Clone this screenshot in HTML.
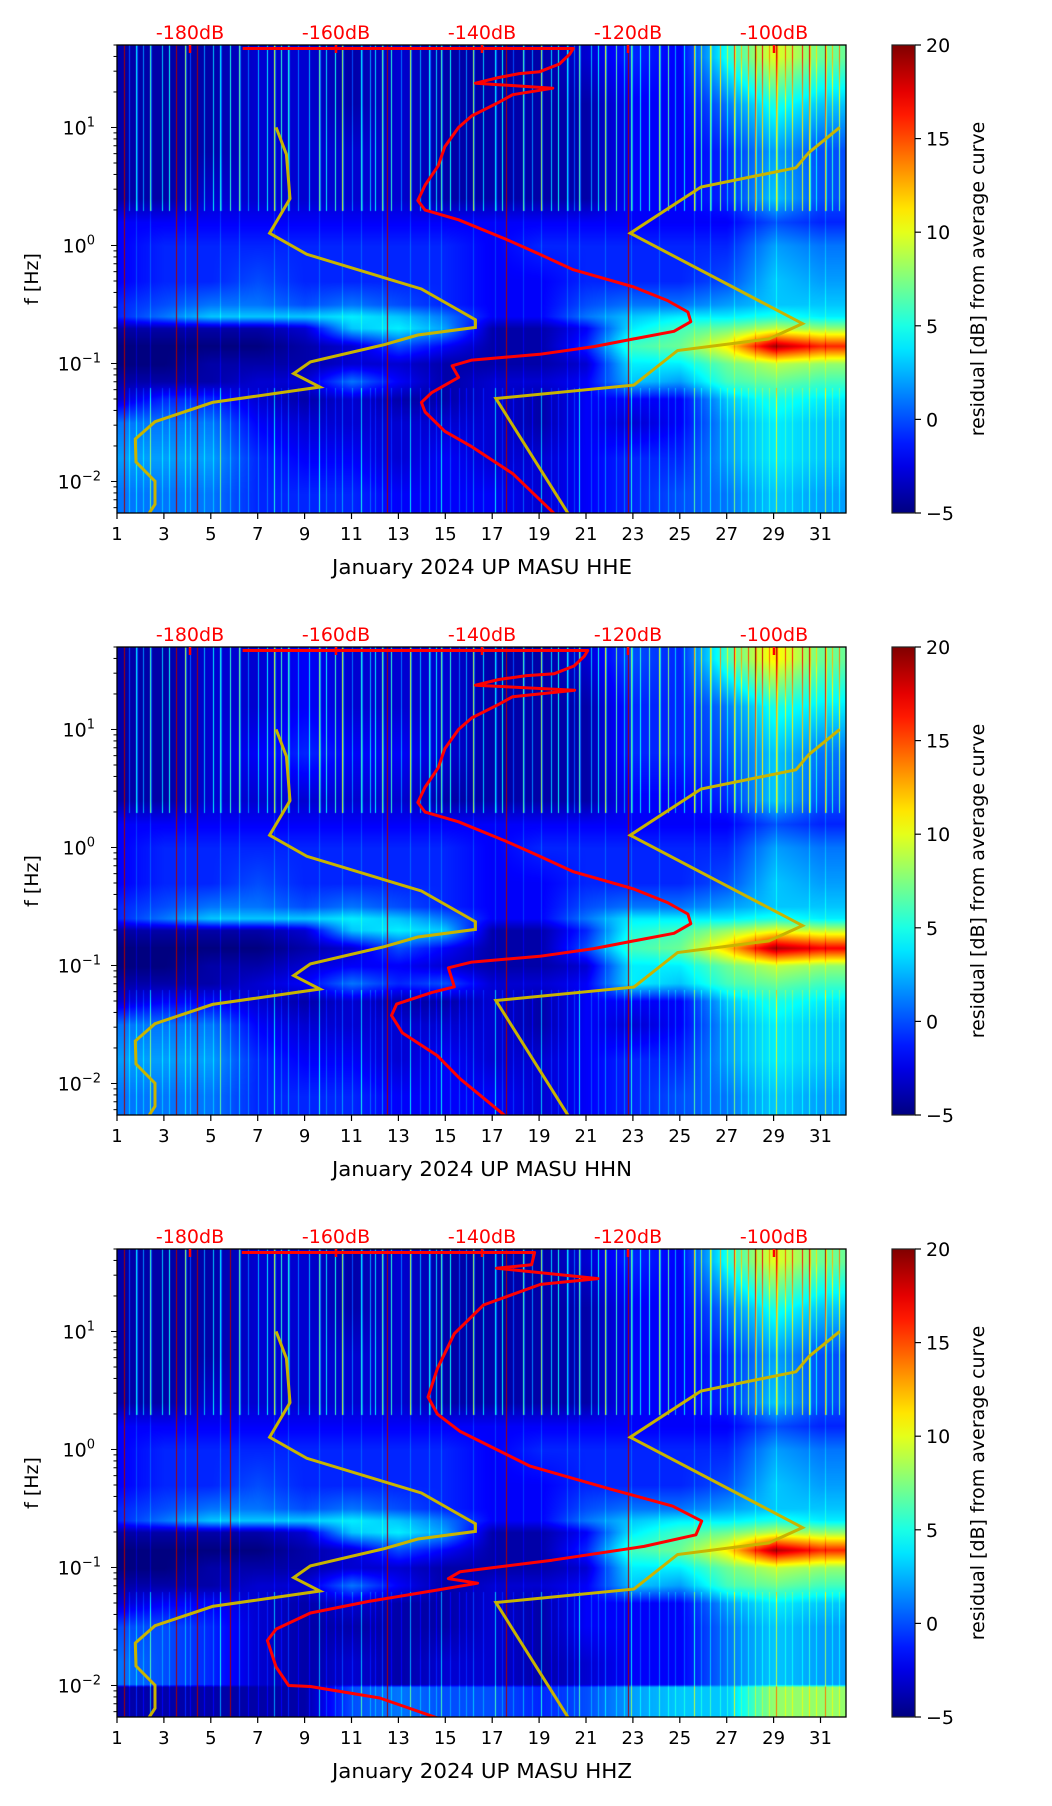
<!DOCTYPE html>
<html><head><meta charset="utf-8">
<style>
html,body{margin:0;padding:0;background:#fff;}
#wrap{position:relative;width:1052px;height:1806px;overflow:hidden;}
canvas{position:absolute;}
svg{position:absolute;left:0;top:0;}
text{font-family:"DejaVu Sans","Liberation Sans",sans-serif;}
</style></head>
<body>
<div id="wrap">
<canvas id="c0" width="729" height="468" style="left:117px;top:45px"></canvas>
<canvas id="c1" width="729" height="468" style="left:117px;top:647px"></canvas>
<canvas id="c2" width="729" height="468" style="left:117px;top:1249px"></canvas>
<svg id="ov" width="1052" height="1806"></svg>
</div>
<script>
// ---------- data ----------
const dayCols = [1,3,5,7,9,11,13,15,17,19,21,23,25,27,29,31];
const rowsLogF = [1.6,1.2,0.8,0.4,0.2,0.0,-0.3,-0.5,-0.6,-0.7,-0.85,-1.0,-1.15,-1.3,-1.5,-1.8,-2.1];
const gridHHE = [
 [-4,-4,-4,-3,-3,-4,-3,-4,-4,-4,-3,-1,-2,5,10,7],
 [-4,-4,-4,-3,-3,-4,-3,-4,-4,-4,-4,-2,-2,1,5,3],
 [-4,-4,-4,-3,-3,-3,-3,-4,-4,-4,-4,-2,-2,-1,2,0],
 [-4,-4,-3,-3,-3,-3,-3,-4,-4,-4,-4,-2,-2,-1,3,0],
 [-2,-2,-2,-2,-2,-2,-2,-2,-2,-2,-2,-2,-2,-2,0,-1],
 [-2,-1,-1,-1,-1,-1,-1,-1,-2,-1,-1,-1,-1,-1,2,1],
 [-2,-1,-1,0,-1,-1,-1,-1,-2,-2,-1,-1,-1,0,3,2],
 [-1,0,1,1,0,1,0,-1,-2,-2,0,1,1,2,3,3],
 [-1,1,3,3,3,4,3,1,-2,-2,1,3,4,4,5,4],
 [-4,-4,-4,-4,-3,3,4,2,-4,-4,-2,4,6,7,9,8],
 [-5,-5,-5,-5,-4,-3,0,-2,-4,-4,-1,6,7,11,19,16],
 [-5,-5,-4,-4,-4,-3,-3,-4,-4,-4,-3,4,4,7,9,8],
 [-4,-4,-4,-3,-3,1,-2,-4,-3,-3,-2,3,2,6,7,6],
 [-3,-1,-1,-3,-4,-3,-4,-4,-3,-4,-2,-2,-2,3,5,4],
 [1,1,1,-2,-3,-3,-3,-3,-3,-4,-2,-3,-2,2,4,3],
 [2,2,2,-1,-2,-2,-3,-2,-3,-3,-2,-1,-1,2,4,3],
 [1,1,1,-1,-1,-1,-2,-2,-2,-3,-2,-1,0,1,3,2]
];
const gridHHN = [
 [-4,-4,-3,-3,-2,-3,-3,-3,-4,-4,-3,0,-1,6,11,7],
 [-4,-4,-3,-3,-2,-3,-3,-3,-4,-4,-4,-1,-1,1,5,4],
 [-4,-4,-3,-2,-1,-2,-2,-3,-4,-4,-4,-1,-1,0,3,1],
 [-4,-4,-3,-3,-3,-3,-3,-4,-4,-4,-4,-2,-2,-1,3,0],
 [-2,-2,-2,-2,-2,-2,-2,-2,-2,-2,-2,-2,-2,-2,0,-1],
 [-2,-1,-1,-1,-1,-1,-1,-1,-2,-1,-1,-1,-1,-1,2,1],
 [-2,-1,-1,0,-1,-1,-1,-1,-2,-2,-1,-1,-1,0,3,2],
 [-1,0,1,1,0,1,0,-1,-2,-2,0,1,1,2,3,3],
 [-1,1,3,3,3,4,3,1,-2,-2,1,4,4,4,5,4],
 [-4,-4,-4,-4,-3,3,4,3,-4,-4,-1,5,6,8,10,9],
 [-5,-5,-5,-5,-4,-3,0,-2,-4,-4,0,6,7,12,19,17],
 [-5,-5,-4,-4,-3,-2,-2,-3,-4,-4,-3,4,4,7,9,8],
 [-4,-4,-4,-3,-2,1,-1,0,-3,-3,-2,4,3,6,7,6],
 [-3,-2,-2,-3,-4,-3,-4,-4,-3,-4,-2,-2,-2,3,5,4],
 [1,1,1,-2,-3,-3,-3,-3,-3,-4,-2,-3,-2,2,4,3],
 [2,2,2,-1,-2,-2,-3,-2,-3,-3,-2,-1,-1,2,4,3],
 [1,1,1,-1,-1,-1,-2,-2,-2,-3,-2,-1,0,1,3,2]
];
const rowsLogFZ = [1.6,1.2,0.8,0.4,0.2,0.0,-0.3,-0.5,-0.6,-0.7,-0.85,-1.0,-1.15,-1.3,-1.5,-1.8,-1.99,-2.01,-2.2];
const gridHHZ = [
 [-4,-4,-4,-3,-3,-4,-3,-4,-4,-4,-3,-1,-2,5,10,7],
 [-4,-4,-4,-3,-3,-4,-3,-4,-4,-4,-4,-2,-2,1,5,3],
 [-4,-4,-4,-3,-3,-3,-3,-4,-4,-4,-4,-2,-2,-1,2,0],
 [-4,-4,-3,-3,-3,-3,-3,-4,-4,-4,-4,-2,-2,-1,3,0],
 [-2,-2,-2,-2,-2,-2,-2,-2,-2,-2,-2,-2,-2,-2,0,-1],
 [-2,-1,-1,-1,-1,-1,-1,-1,-2,-1,-1,-1,-1,-1,2,1],
 [-2,-1,-1,0,-1,-1,-1,-1,-2,-2,-1,-1,-1,0,3,2],
 [-1,0,1,1,0,1,0,-1,-2,-2,0,1,1,2,3,3],
 [-1,1,3,3,3,4,3,1,-2,-2,1,3,4,4,5,4],
 [-4,-4,-4,-4,-3,3,4,2,-4,-4,-2,4,6,7,9,8],
 [-5,-5,-5,-5,-4,-3,0,-2,-4,-4,-1,6,7,11,19,16],
 [-5,-5,-4,-4,-4,-3,-3,-4,-4,-4,-3,4,4,7,9,8],
 [-4,-4,-4,-3,-3,1,-2,-4,-3,-3,-2,3,2,6,7,6],
 [-3,-2,-2,-3,-4,-3,-4,-4,-3,-4,-2,-2,-2,2,4,3],
 [0,0,-1,-3,-4,-4,-4,-4,-3,-4,-2,-2,-2,1,3,2],
 [1,0,-1,-3,-4,-3,-4,-3,-3,-4,-3,-2,-2,1,3,2],
 [1,0,-1,-3,-4,-3,-4,-3,-3,-4,-3,-2,-2,1,3,2],
 [-4,-4,-4,-4,-4,0,1,0,0,-1,0,2,3,3,8,8],
 [-4,-4,-4,-4,-4,0,1,0,0,-1,0,2,3,3,8,8]
];
const streakDays = [1.8,2.4,3.9,5.4,6.2,7.7,8.3,9.6,10.6,11.4,12.3,13.5,14.3,14.8,16.2,17.1,18.3,19.1,20.2,20.7,21.8,22.9,24.1,25.6,26.3,27.3,28.2,29.1,30.5,31.2];
const minorStreakDays = [1.5,2.1,2.9,3.2,4.1,4.7,5.1,5.8,6.6,7.0,7.4,8.0,8.7,9.2,9.9,10.3,11.0,11.8,12.0,12.7,13.1,13.9,14.6,15.2,15.6,15.9,16.6,17.4,17.9,18.7,19.5,19.8,20.5,21.2,21.5,22.3,22.6,23.3,23.7,24.5,24.8,25.2,25.9,26.7,27.0,27.6,27.9,28.5,28.8,29.5,29.8,30.2,30.8,31.5,31.8];
const darkLineDays = [1.3,3.5,4.4,12.5,17.6,22.8];
const darkLineDaysZ = [1.3,3.5,4.4,5.8,12.5,17.6,22.8];
const redDbE = [-172.8,-127.5,-128.0,-129.4,-132.1,-134.9,-137.7,-140.9,-130.3,-135.8,-137.7,-141.4,-143.2,-145.1,-146.0,-147.8,-148.8,-147.8,-143.2,-136.8,-132.1,-127.5,-119.2,-114.6,-111.8,-111.4,-113.7,-119.2,-124.7,-132.1,-141.4,-144.1,-143.2,-146.9,-148.3,-147.8,-145.1,-141.4,-135.8,-129.8];
const redLfE  = [1.669,1.669,1.620,1.538,1.473,1.457,1.424,1.375,1.333,1.278,1.213,1.098,1.001,0.837,0.675,0.512,0.381,0.300,0.218,0.055,-0.075,-0.205,-0.352,-0.466,-0.564,-0.646,-0.727,-0.792,-0.857,-0.922,-0.971,-1.020,-1.118,-1.248,-1.330,-1.411,-1.575,-1.705,-1.933,-2.291];
const redDbN = [-172.8,-125.5,-126.0,-127.4,-130.1,-133.9,-137.7,-140.9,-127.3,-135.8,-137.7,-141.4,-143.2,-145.1,-146.0,-147.8,-148.8,-147.8,-143.2,-136.8,-132.1,-127.5,-119.2,-114.6,-111.8,-111.4,-113.7,-119.2,-124.7,-132.1,-141.4,-144.6,-143.8,-146.9,-151.7,-152.4,-150.9,-146.1,-143.0,-136.7];
const redLfN  = [1.669,1.669,1.620,1.538,1.473,1.457,1.424,1.375,1.333,1.278,1.213,1.098,1.001,0.837,0.675,0.512,0.381,0.300,0.218,0.055,-0.075,-0.205,-0.352,-0.466,-0.564,-0.646,-0.727,-0.792,-0.857,-0.922,-0.971,-1.020,-1.181,-1.230,-1.327,-1.424,-1.571,-1.765,-1.960,-2.281];
const redDbZ = [-172.9,-132.8,-133.2,-138.0,-124.1,-132.0,-139.8,-143.8,-146.1,-147.4,-146.1,-143.0,-133.5,-122.5,-113.9,-109.9,-110.7,-117.8,-130.4,-143.0,-144.6,-140.6,-146.1,-155.6,-163.5,-168.2,-169.4,-168.2,-166.5,-163.5,-154.0,-145.4];
const redLfZ  = [1.669,1.669,1.565,1.536,1.448,1.399,1.224,0.981,0.688,0.445,0.299,0.153,-0.139,-0.334,-0.480,-0.607,-0.723,-0.821,-0.938,-1.036,-1.094,-1.133,-1.191,-1.288,-1.386,-1.522,-1.619,-1.843,-2.0,-2.009,-2.106,-2.291];
const nlnmDb = [-168.2,-166.8,-166.3,-169.1,-164.0,-148.3,-140.9,-140.9,-148.8,-153.4,-163.5,-165.8,-162.2,-176.9,-184.8,-187.5,-187.4,-184.8,-184.8,-185.9];
const nlnmLf = [1.001,0.773,0.397,0.104,-0.075,-0.369,-0.629,-0.694,-0.759,-0.841,-0.987,-1.086,-1.199,-1.330,-1.493,-1.640,-1.835,-1.998,-2.193,-2.298];
const nhnmDb = [-91.0,-95.2,-97.0,-110.0,-119.7,-96.1,-100.7,-113.2,-119.2,-138.1,-128.0];
const nhnmLf = [1.001,0.789,0.658,0.496,0.104,-0.662,-0.792,-0.890,-1.183,-1.297,-2.291];
const dayTicks = [1,3,5,7,9,11,13,15,17,19,21,23,25,27,29,31];
const dbTicks = [-180,-160,-140,-120,-100];
const cbTicks = [-5,0,5,10,15,20];
const decadeTicks = [1,0,-1,-2];
const channels = ['HHE','HHN','HHZ'];

// ---------- scales ----------
const X0=117, PW=729, PH=468, CBX=892, CBW=23;
const dayW=23.45, LFTOP=1.699, DEC=118;
const panelTop = i => 45 + 602*i;
const xDay = d => X0 + (d-1)*dayW;
const yLf = (lf,T) => T + (LFTOP-lf)*DEC;
const xDb = db => 190 + (db+180)*7.3;
const vmin=-5, vmax=20;
function jet(v){
  let t=(v-vmin)/(vmax-vmin); t=Math.max(0,Math.min(1,t));
  const c=x=>Math.max(0,Math.min(1,x));
  return [c(1.5-Math.abs(4*t-3))*255, c(1.5-Math.abs(4*t-2))*255, c(1.5-Math.abs(4*t-1))*255];
}
function interp(grid, rows, day, lf){
  let ci=(day-1)/2; ci=Math.max(0,Math.min(dayCols.length-1,ci));
  const c0=Math.floor(ci), c1=Math.min(dayCols.length-1,c0+1), ct=ci-c0;
  const mixc=row=>row[c0]*(1-ct)+row[c1]*ct;
  if(lf>=rows[0]) return mixc(grid[0]);
  if(lf<=rows[rows.length-1]) return mixc(grid[rows.length-1]);
  let r0=0;
  for(let i=0;i<rows.length-1;i++){ if(lf<=rows[i]&&lf>=rows[i+1]){r0=i;break;} }
  const rt=(rows[r0]-lf)/(rows[r0]-rows[r0+1]);
  return mixc(grid[r0])*(1-rt)+mixc(grid[r0+1])*rt;
}
const grids=[[gridHHE,rowsLogF,darkLineDays],[gridHHN,rowsLogF,darkLineDays],[gridHHZ,rowsLogFZ,darkLineDaysZ]];
grids.forEach((g,pi)=>{
  const cv=document.getElementById('c'+pi), ctx=cv.getContext('2d');
  const img=ctx.createImageData(PW,PH);
  const streakPx=new Map();
  streakDays.forEach((d,k)=>{streakPx.set(Math.round(xDay(d)-X0),k);});
  const minorPx=new Map();
  minorStreakDays.forEach((d,k)=>{minorPx.set(Math.round(xDay(d)-X0),k);});
  const darkPx=new Set(g[2].map(d=>Math.round(xDay(d)-X0)));
  for(let y=0;y<PH;y++){
    const lf=LFTOP-y/DEC;
    for(let x=0;x<PW;x++){
      const day=1+x/dayW;
      let v=interp(g[0],g[1],day,lf);
      if(streakPx.has(x)){ const k=streakPx.get(x); v+= lf>0.3 ? 8+(k%3)*2 : (lf<-1.2 ? 3+(k%2)*3 : 1.5); }
      else if(streakPx.has(x-1) && lf>0.3) v+=4;
      else if(minorPx.has(x) && lf>0.3){ const k=minorPx.get(x); v+=4+(k%4)*1.5; }
      else if(minorPx.has(x) && lf<-1.2){ v+=2; }
      if(darkPx.has(x)) v=19;
      const c=jet(v); const o=(y*PW+x)*4;
      img.data[o]=c[0];img.data[o+1]=c[1];img.data[o+2]=c[2];img.data[o+3]=255;
    }
  }
  ctx.putImageData(img,0,0);
});

// ---------- SVG overlay ----------
const NS='http://www.w3.org/2000/svg', svg=document.getElementById('ov');
function el(tag,attrs,parent){const e=document.createElementNS(NS,tag);for(const k in attrs)e.setAttribute(k,attrs[k]);(parent||svg).appendChild(e);return e;}
const defs=el('defs',{});
const lg=el('linearGradient',{id:'jetg',x1:0,y1:1,x2:0,y2:0},defs);
for(let i=0;i<=20;i++){const c=jet(vmin+(vmax-vmin)*i/20);el('stop',{offset:(i/20),'stop-color':`rgb(${c.map(Math.round).join(',')})`},lg);}
function pathFrom(dbs,lfs,T){return dbs.map((d,i)=>(i?'L':'M')+xDb(d).toFixed(1)+','+yLf(lfs[i],T).toFixed(1)).join(' ');}
const reds=[[redDbE,redLfE],[redDbN,redLfN],[redDbZ,redLfZ]];
for(let p=0;p<3;p++){
  const T=panelTop(p);
  const grp=el('g',{});
  
  
  const cp=el('clipPath',{id:'cp'+p},defs); el('rect',{x:X0,y:T,width:PW,height:PH},cp);
  const lines=el('g',{'clip-path':`url(#cp${p})`},grp);
  const nl=el('path',{d:pathFrom(nlnmDb,nlnmLf,T),fill:'none',stroke:'#c8b400','stroke-width':3},lines);
   
  const nh=el('path',{d:pathFrom(nhnmDb,nhnmLf,T),fill:'none',stroke:'#c8b400','stroke-width':3},lines);
   
  const rd=el('path',{d:pathFrom(reds[p][0],reds[p][1],T),fill:'none',stroke:'#ff0000','stroke-width':3,'stroke-linejoin':'round'},lines);
   
  el('rect',{x:X0,y:T,width:PW,height:PH,fill:'none',stroke:'#000','stroke-width':1.3},grp);
  dayTicks.forEach(d=>{const x=xDay(d);el('line',{x1:x,x2:x,y1:T+PH,y2:T+PH+6,stroke:'#000','stroke-width':1.2},grp);
    const t=el('text',{x:x,y:T+PH+27,'text-anchor':'middle','font-size':18},grp);t.textContent=d;
    });
  const xl=el('text',{x:482,y:T+PH+61,'text-anchor':'middle','font-size':20,'textLength':300,'lengthAdjust':'spacingAndGlyphs'},grp);
  xl.textContent='January 2024 UP MASU  '+channels[p];
  
  for(let dec=-3;dec<=1;dec++){for(let m=1;m<10;m++){const lf=dec+Math.log10(m);const y=yLf(lf,T);
    if(y<T-0.5||y>T+PH+0.5)continue;
    el('line',{x1:X0,x2:X0-(m===1?6:3.5),y1:y,y2:y,stroke:'#000','stroke-width':1},grp);}}
  decadeTicks.forEach(dc=>{const y=yLf(dc,T);
    const t=el('text',{x:dc<0?101:95,y:y+7,'text-anchor':'end','font-size':19},grp);
    
    t.appendChild(document.createTextNode('10'));
    const s=el('tspan',{dy:-8,'font-size':13},t);s.textContent=dc<0?'\u2212'+(-dc):String(dc);});
  const yl=el('text',{x:0,y:0,'text-anchor':'middle','font-size':19,transform:`translate(38,${T+234}) rotate(-90)`},grp);
  yl.textContent='f [Hz]';
  dbTicks.forEach(db=>{const x=xDb(db);
    el('line',{x1:x,x2:x,y1:T,y2:T+8,stroke:'#ff0000','stroke-width':2.5},grp);
    const t=el('text',{x:x,y:T-6,'text-anchor':'middle','font-size':19,fill:'#ff0000'},grp);t.textContent=db+'dB';
    });
  const cb=el('rect',{x:CBX,y:T,width:CBW,height:PH,fill:'url(#jetg)',stroke:'#222','stroke-width':1.2},grp);
  
  cbTicks.forEach(v=>{const y=T+PH-(v-vmin)/(vmax-vmin)*PH;
    el('line',{x1:CBX+CBW,x2:CBX+CBW+6,y1:y,y2:y,stroke:'#000','stroke-width':1.2},grp);
    const t=el('text',{x:CBX+CBW+11,y:y+7,'font-size':19},grp);t.textContent=v<0?'\u2212'+(-v):v;
    });
  const cl=el('text',{x:0,y:0,'text-anchor':'middle','font-size':19,transform:`translate(984,${T+234}) rotate(-90)`},grp);
  cl.textContent='residual [dB] from average curve';
  
}
</script>
</body></html>
